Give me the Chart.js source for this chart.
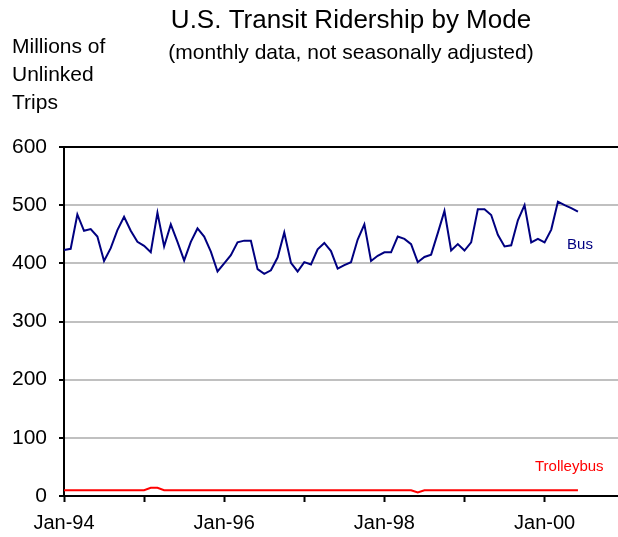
<!DOCTYPE html>
<html>
<head>
<meta charset="utf-8">
<script src="https://cdn.jsdelivr.net/npm/chart.js@4"></script>
<style>
  body { margin: 0; background: #fff; }
  #wrap { width: 618px; height: 537px; }
</style>
</head>
<body>
<div id="wrap"><canvas id="chart1" width="618" height="537"></canvas></div>
<script>
// months Jan-94 .. Jun-00
const months = [];
const yrs = ["94", "95", "96", "97", "98", "99", "00"];
const mnames = ["Jan","Feb","Mar","Apr","May","Jun","Jul","Aug","Sep","Oct","Nov","Dec"];
yrs.forEach(y => mnames.forEach(m => months.push(m + "-" + y)));
months.length = 78;

const bus = [
  423, 425, 484, 456, 459, 446, 404, 426, 457, 480, 456, 437,
  430, 419, 487, 429, 467, 437, 405, 437, 460, 446, 420, 386,
  400, 414, 436, 439, 439, 390, 382, 388, 410, 453, 401, 386,
  402, 398, 424, 435, 421, 391, 397, 402, 441, 467, 404, 413,
  419, 419, 446, 442, 433, 402, 411, 415, 452, 490, 422, 433,
  422, 436, 493, 493, 483, 449, 429, 431, 474, 500, 436, 442,
  436, 458, 506, 500, 495, 489
];

const trolleybus = [
  10, 10, 10, 10, 10, 10, 10, 10, 10, 10, 10, 10,
  10, 14, 14, 10, 10, 10, 10, 10, 10, 10, 10, 10,
  10, 10, 10, 10, 10, 10, 10, 10, 10, 10, 10, 10,
  10, 10, 10, 10, 10, 10, 10, 10, 10, 10, 10, 10,
  10, 10, 10, 10, 10, 6, 10, 10, 10, 10, 10, 10,
  10, 10, 10, 10, 10, 10, 10, 10, 10, 10, 10, 10,
  10, 10, 10, 10, 10, 10
];

const yTicks = [0, 100, 200, 300, 400, 500, 600];
const xTickLabels = ["Jan-94", "", "Jan-96", "", "Jan-98", "", "Jan-00"];

const FONT = "'Liberation Sans', Arial, sans-serif";

const textPlugin = {
  id: "texts",
  afterDraw(chart) {
    const c = chart.ctx;
    const x = chart.scales.x, y = chart.scales.y;
    c.save();
    c.fillStyle = "#000";
    c.textAlign = "center";
    c.textBaseline = "middle";
    c.font = "26px " + FONT;
    c.fillText("U.S. Transit Ridership by Mode", 351, 21);
    c.font = "21px " + FONT;
    c.fillText("(monthly data, not seasonally adjusted)", 351, 53);
    c.textAlign = "left";
    c.fillText("Millions of", 12, 47);
    c.fillText("Unlinked", 12, 75);
    c.fillText("Trips", 12, 103);
    c.textAlign = "center";
    c.font = "15px " + FONT;
    c.fillStyle = "#000080";
    c.fillText("Bus", x.getPixelForValue(77.3), y.getPixelForValue(431));
    c.fillStyle = "#ff0000";
    c.fillText("Trolleybus", x.getPixelForValue(75.7), y.getPixelForValue(50));
    c.restore();
  }
};

new Chart(document.getElementById("chart1"), {
  type: "line",
  data: {
    datasets: [
      {
        label: "Bus",
        data: bus.map((v, i) => ({ x: i, y: v })),
        borderColor: "#000080",
        borderWidth: 2,
        pointRadius: 0,
        tension: 0,
      },
      {
        label: "Trolleybus",
        data: trolleybus.map((v, i) => ({ x: i, y: v })),
        borderColor: "#ff0000",
        borderWidth: 2,
        pointRadius: 0,
        tension: 0,
      },
    ],
  },
  options: {
    responsive: false,
    animation: false,
    layout: { padding: { top: 147, right: 0, bottom: 0, left: 0 } },
    plugins: {
      legend: { display: false },
      tooltip: { enabled: false },
    },
    scales: {
      x: {
        type: "linear",
        min: 0,
        max: 83,
        afterBuildTicks: (s) => {
          s.ticks = xTickLabels.map((l, i) => ({ value: i * 12 }));
        },
        afterFit: (s) => { s.height = 41; },
        border: { color: "#000", width: 2 },
        grid: { drawOnChartArea: false, tickLength: 6, tickColor: "#000", tickWidth: 2 },
        ticks: {
          padding: 9,
          color: "#000",
          font: { family: FONT, size: 20 },
          maxRotation: 0,
          callback: (v) => xTickLabels[Math.round(v / 12)],
        },
      },
      y: {
        min: 0,
        max: 600,
        afterBuildTicks: (s) => {
          s.ticks = yTicks.map(v => ({ value: v }));
        },
        afterFit: (s) => { s.width = 64; },
        border: { color: "#000", width: 2 },
        grid: {
          lineWidth: 2,
          color: (ctx) => ctx.tick && ctx.tick.value === 600 ? "#000" : "#c0c0c0",
          tickLength: 5,
          tickColor: "#000",
        },
        ticks: {
          padding: 12,
          color: "#000",
          font: { family: FONT, size: 21 },
        },
      },
    },
  },
  plugins: [textPlugin],
});
</script>
</body>
</html>
